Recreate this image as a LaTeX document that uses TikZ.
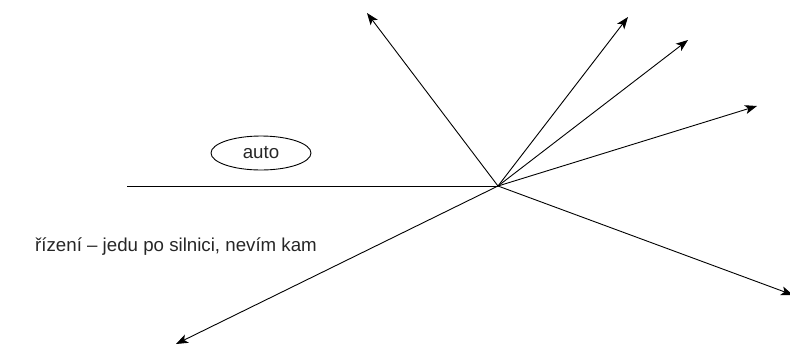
\documentclass[tikz,border=0pt]{standalone}
\usepackage{fontspec}
\setmainfont{Liberation Sans}
\usetikzlibrary{arrows.meta,shapes.geometric}
\tikzset{
  ray/.style={line width=0.9pt, -{Stealth[length=12pt,width=9pt,inset=3pt]}},
  plain/.style={line width=0.9pt},
  lbl/.style={font=\fontsize{18.7}{22}\selectfont, inner sep=0pt, text=black!85}
}
\begin{document}
\begin{tikzpicture}[x=1pt,y=-1pt]
\useasboundingbox (0,0) rectangle (790,346);
\begin{scope}
\clip (0,0) rectangle (790,346);
\coordinate (c) at (498,186);
\coordinate (l) at (127,186);
\coordinate (a1) at (367,13);
\coordinate (a2) at (628,17);
\coordinate (a3) at (688,40);
\coordinate (a4) at (757,106);
\coordinate (a5) at (793,295);
\coordinate (a6) at (176,344);
\draw[plain] (l) -- (c);
\draw[ray] (c) -- (a1);
\draw[ray] (c) -- (a2);
\draw[ray] (c) -- (a3);
\draw[ray] (c) -- (a4);
\draw[ray] (c) -- (a5);
\draw[ray] (c) -- (a6);
\node[draw, ellipse, plain, minimum width=100pt, minimum height=34pt, lbl] (auto) at (261,153) {auto};
\node[lbl, anchor=base west] (t) at (35,251) {řízení – jedu po silnici, nevím kam};
\end{scope}
\end{tikzpicture}
\end{document}
